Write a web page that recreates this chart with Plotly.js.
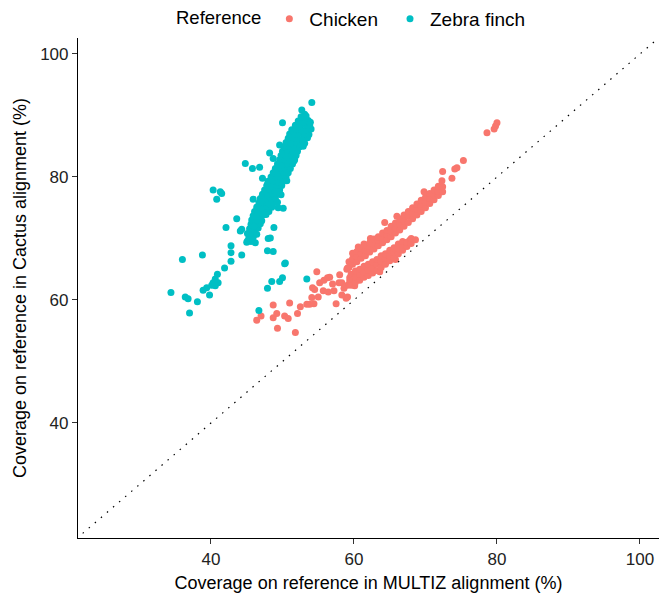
<!DOCTYPE html>
<html><head><meta charset="utf-8">
<script src="https://cdn.plot.ly/plotly-3.0.1.min.js"></script>
<style>html,body{margin:0;padding:0;background:#fff}</style>
</head><body><div id="chart" style="width:659px;height:594px"></div>
<script>
// Zebra finch: coverage (%) in MULTIZ (x) vs Cactus (y)
const finchX = [
34.4,36.0,36.4,36.8,37.0,38.1,38.8,40.3,41.3,41.5,40.8,42.1,43.6,44.3,44.1,42.8,42.8,42.8,44.3,41.9,
40.9,40.6,40.3,40.1,39.4,38.9,39.8,41.0,40.6,45.1,45.5,45.9,44.8,45.8,46.8,48.0,48.3,47.9,48.7,50.4,
48.8,48.5,49.6,50.0,47.9,46.7,49.4,50.1,47.2,47.9,54.1,52.7,53.1,50.0,48.2,48.7,49.6,48.7,53.4,50.3,
45.0,45.6,46.2, 45.3,45.9, 45.1,45.7,46.4, 45.4,46.0,46.6, 45.6,46.3,46.9, 45.7,46.4,47.1, 45.9,46.6,47.3,
46.1,46.8,47.5,48.1, 46.4,47.1,47.8,48.5, 46.7,47.4,48.1,48.8,49.3, 46.9,47.6,48.3,49.0,
47.2,47.9,48.6,49.3,49.8, 47.5,48.2,48.9,49.6, 47.8,48.5,49.2,49.9, 48.0,48.7,49.4,50.1,
48.4,49.1,49.8,50.5, 48.7,49.4,50.1,50.8, 49.0,49.7,50.4,51.1, 49.3,50.0,50.7,51.4,
49.6,50.3,51.0,51.7, 49.8,50.5,51.2,51.9, 50.0,50.7,51.4,52.1, 50.3,51.0,51.7,52.4,52.9,
50.5,51.2,51.9,52.6,53.1, 50.8,51.5,52.2,52.9,53.5, 51.0,51.7,52.4,53.1,53.7,
51.3,52.0,52.7,53.4,54.0, 51.8,52.5,53.2,53.8, 52.2,52.9,53.6, 52.6,53.3,
46.0,46.5,47.7,49.1,50.6,51.6,52.8,53.9,47.0,48.4
];
const finchY = [
61.2,66.6,60.5,60.2,57.9,59.7,67.3,77.9,77.6,77.3,76.4,71.8,73.2,71.5,71.2,68.8,67.7,66.3,67.3,65.2,
64.2,63.4,62.8,62.4,62.0,61.6,60.8,62.8,62.3,69.6,70.1,76.4,82.2,81.4,81.6,70.0,70.1,68.0,67.9,66.0,
71.8,63.0,63.0,63.6,61.9,58.3,75.0,74.9,79.8,78.8,92.1,90.9,90.2,88.8,83.9,83.0,85.2,80.2,63.4,65.9,
69.4,69.5,69.3, 70.1,70.2, 70.8,70.9,70.7, 71.6,71.5,71.7, 72.3,72.2,72.4, 73.0,73.1,72.9, 73.7,73.6,73.8,
74.4,74.5,74.3,74.4, 75.1,75.0,75.2,75.1, 75.8,75.9,75.7,75.8,75.9, 76.5,76.4,76.6,76.5,
77.2,77.1,77.3,77.2,77.1, 77.9,78.0,77.8,77.9, 78.6,78.5,78.7,78.6, 79.3,79.4,79.2,79.3,
80.0,80.1,79.9,80.0, 80.7,80.6,80.8,80.7, 81.4,81.5,81.3,81.4, 82.1,82.0,82.2,82.1,
82.8,82.9,82.7,82.8, 83.5,83.4,83.6,83.5, 84.2,84.3,84.1,84.2, 84.9,85.0,84.8,84.9,85.0,
85.6,85.5,85.7,85.6,85.5, 86.3,86.4,86.2,86.3,86.4, 87.0,86.9,87.1,87.0,86.9,
87.7,87.8,87.6,87.7,87.8, 88.4,88.3,88.5,88.4, 89.1,89.0,89.2, 89.8,89.9,
72.0,74.2,73.9,77.6,79.4,82.6,85.9,88.9,76.0,75.6
];
// Chicken
const chickenX = [
46.4,47.0,48.7,48.7,49.2,49.3,50.3,50.8,51.0,51.8,52.1,52.5,53.4,54.1,53.8,54.4,55.0,54.2,54.8,54.5,
55.2,55.8,56.3,56.6,55.7,56.4,57.2,57.9,57.5,58.3,58.9,59.1,59.1,59.1,59.4,59.0,59.9,58.3,59.4,60.1,
61.4,64.3,67.8,72.4,73.7,74.1,74.4,75.3,72.3,78.6,79.6,79.8,80.0,57.0,58.0,58.6,
62.3,66.0,69.8,60.6,63.6,65.8,
59.6,59.6,59.6, 60.2,60.2,60.2, 60.8,60.8,60.8, 61.4,61.4,61.4, 62.0,62.0,62.0, 62.6,62.6,62.6,
63.2,63.2,63.2, 63.8,63.8,63.8, 64.4,64.4,64.4, 65.0,65.0,65.0, 65.6,65.6,65.6, 66.2,66.2,66.2,
66.8,66.8,66.8, 67.4,67.4, 68.0,68.0, 68.6,
59.3,59.3, 59.8,59.8,59.8, 60.4,60.4,60.4, 61.0,61.0,61.0, 61.6,61.6,61.6, 62.2,62.2,62.2,
62.8,62.8,62.8, 63.4,63.4,63.4, 64.0,64.0,64.0, 64.6,64.6,64.6, 65.2,65.2,65.2, 65.8,65.8,65.8,
66.4,66.4,66.4, 67.0,67.0,67.0, 67.6,67.6,67.6, 68.2,68.2,68.2, 68.8,68.8,68.8, 69.4,69.4,69.4,
70.0,70.0,70.0, 70.6,70.6,70.6, 71.2,71.2,71.2, 71.8,71.8,71.8, 72.4,72.4
];
const chickenY = [
56.7,57.4,59.2,57.1,57.8,55.4,57.4,57.0,59.5,54.7,57.8,58.9,59.3,60.4,59.3,59.4,60.5,62.0,64.6,61.7,
62.8,63.2,63.6,63.7,61.5,61.3,61.5,62.8,59.4,60.8,60.3,60.5,65.2,62.4,63.6,65.0,63.6,62.8,63.1,62.3,
69.1,72.6,69.7,80.9,79.8,81.3,81.5,82.7,79.4,87.2,87.8,88.3,88.8,62.6,64.1,61.9,
70.0,73.6,77.6,68.6,64.6,66.6,
62.4,63.4,64.2, 62.9,63.7,64.7, 63.2,64.2,65.0, 63.7,64.5,65.5, 64.0,64.9,65.8, 64.4,65.2,66.2,
64.8,65.8,66.6, 65.3,66.2,67.2, 65.8,66.8,67.5, 66.4,67.2,68.1, 66.9,67.8,68.5, 67.5,68.3,69.1,
68.1,68.9,69.5, 68.7,69.4, 69.2,70.0, 69.8,
65.3,66.2, 65.8,66.7,67.6, 66.2,67.1,67.9, 66.8,67.6,68.4, 67.2,68.1,68.9, 67.8,68.7,69.3,
68.3,69.1,69.9, 68.8,69.7,70.3, 69.3,70.1,70.9, 69.8,70.7,71.3, 70.3,71.1,72.0, 70.9,71.7,72.5,
71.4,72.3,73.2, 72.0,72.9,73.8, 72.6,73.6,74.4, 73.2,74.1,75.0, 73.8,74.7,75.6, 74.4,75.3,76.2,
75.0,75.9,76.7, 75.7,76.5,77.3, 76.3,77.1,77.9, 77.0,77.7,78.5, 77.6,78.4
];
const tickValues = [40, 60, 80, 100];
const diagonal = [0, 110];
const seriesNames = ['Chicken', 'Zebra finch'];
const seriesColors = ['#F8766D', '#00BFC4'];

const font = 'Liberation Sans, Arial, Helvetica, sans-serif';
const traces = [
  {x: chickenX, y: chickenY, name: seriesNames[0], type: 'scatter', mode: 'markers', legend: 'legend',
   marker: {color: seriesColors[0], size: 7, line: {width: 0}}},
  {x: finchX, y: finchY, name: seriesNames[1], type: 'scatter', mode: 'markers', legend: 'legend2',
   marker: {color: seriesColors[1], size: 7, line: {width: 0}}},
  {x: diagonal, y: diagonal, type: 'scatter', mode: 'lines', showlegend: false, hoverinfo: 'skip',
   line: {color: '#000', width: 1.2, dash: '1.5px,6.5px'}}
];
const axisCommon = {
  tickvals: tickValues, ticks: 'outside', ticklen: 5, tickwidth: 1, tickcolor: '#333',
  showline: true, linecolor: '#000', linewidth: 1.1, showgrid: false, zeroline: false,
  tickfont: {family: font, size: 17, color: '#222'}
};
const legendCommon = {orientation: 'h', xref: 'container', yref: 'container', xanchor: 'left',
  y: 1, yanchor: 'top', font: {family: font, size: 19}, bgcolor: 'rgba(0,0,0,0)'};
const layout = {
  width: 659, height: 594,
  margin: {l: 78, r: 0, t: 37, b: 56},
  paper_bgcolor: '#fff', plot_bgcolor: '#fff',
  font: {family: font, color: '#000'},
  xaxis: Object.assign({}, axisCommon, {range: [21.4, 102.66],
    title: {text: 'Coverage on reference in MULTIZ alignment (%)', font: {family: font, size: 18}, standoff: 8}}),
  yaxis: Object.assign({}, axisCommon, {range: [21.3, 102.6],
    title: {text: 'Coverage on reference in Cactus alignment (%)', font: {family: font, size: 18}, standoff: 8}}),
  showlegend: true,
  legend: Object.assign({}, legendCommon, {x: 174/659,
    title: {text: 'Reference', font: {family: font, size: 18.5}, side: 'left'}}),
  legend2: Object.assign({}, legendCommon, {x: 390/659})
};
Plotly.newPlot('chart', traces, layout, {displayModeBar: false, staticPlot: true});
</script></body></html>
